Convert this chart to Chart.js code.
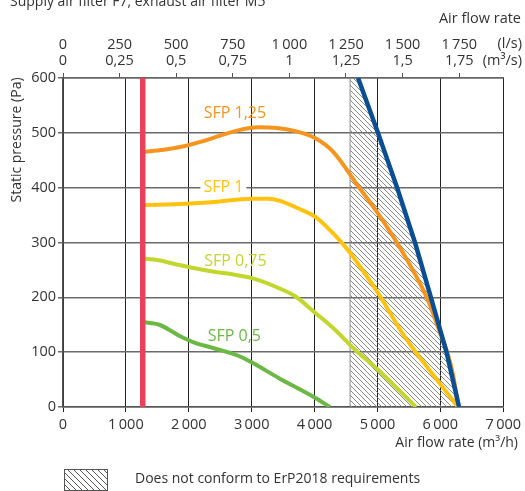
<!DOCTYPE html>
<html>
<head>
<meta charset="utf-8">
<script src="https://cdn.jsdelivr.net/npm/chart.js@4.4.0/dist/chart.umd.min.js"></script>
<style>
  html, body { margin: 0; padding: 0; background: #fff; }
</style>
</head>
<body>
<canvas id="myChart" width="525" height="491"></canvas>
<script>
// chart data
const flowTicks = ['0', '1\u2009000', '2\u2009000', '3\u2009000', '4\u2009000', '5\u2009000', '6\u2009000', '7\u2009000'];
const litreValues = [0, 250, 500, 750, 1000, 1250, 1500, 1750];
const litreTicks = ['0', '250', '500', '750', '1\u2009000', '1\u2009250', '1\u2009500', '1\u2009750'];
const cubicTicks = ['0', '0,25', '0,5', '0,75', '1', '1,25', '1,5', '1,75'];
const pressureTicks = ['0', '100', '200', '300', '400', '500', '600'];

const sfp125X = [1268, 1600, 1900, 2200, 2500, 2800, 3100, 3400, 3700, 4000, 4300, 4692, 5008, 5376, 5798, 5990, 6110, 6200, 6290];
const sfp125Y = [465, 469, 475, 484, 495, 505, 510, 509, 503, 491, 465, 403, 353, 287, 196, 137, 100, 60, 0];

const sfp1X = [1268, 1500, 1848, 2400, 3006, 3270, 3450, 3744, 4008, 4250, 4482, 4586, 5008, 5430, 5904, 6280];
const sfp1Y = [368, 369, 370, 374, 380, 380, 376, 362, 347, 322, 293, 278, 208, 129, 56, 0];

const sfp075X = [1268, 1500, 1848, 2374, 2638, 3006, 3428, 3692, 4008, 4324, 4640, 5008, 5613];
const sfp075Y = [271, 268, 259, 247, 243, 235, 217, 202, 172, 141, 105, 68, 0];

const sfp05X = [1268, 1532, 1848, 2100, 2374, 2796, 3006, 3428, 4008, 4245];
const sfp05Y = [155, 150, 130, 117, 108, 93, 81, 53, 17, 0];

const limitX = [4692, 5008, 5313, 5597, 5850, 6098, 6298];
const limitY = [600, 500, 400, 300, 200, 100, 0];

const minFlow = 1268;
const hatchStart = 4565;

const labelNames = ['SFP 1,25', 'SFP 1', 'SFP 0,75', 'SFP 0,5'];
const labelX = [2733, 2551, 2741, 2725];
const labelY = [535, 401, 266, 129];
const labelColors = ['#f7941d', '#ffc20e', '#c2d62e', '#6cb844'];

function pts(xs, ys) {
    return xs.map((x, i) => ({ x: x, y: ys[i] }));
}

// pick a label from a list when the value sits on a step
function stepLabel(list, v, step) {
    let i = Math.round(v / step);
    if (Math.abs(v - i * step) > 0.5 || i >= list.length) return null;
    return list[i];
}

// diagonal hatching
function makeHatch(step, color, width) {
    let c = document.createElement('canvas');
    c.width = step;
    c.height = step;
    let g = c.getContext('2d');
    g.strokeStyle = color;
    g.lineWidth = width;
    g.beginPath();
    g.moveTo(-1, -1); g.lineTo(step + 1, step + 1);
    g.moveTo(-1, step - 1); g.lineTo(1, step + 1);
    g.moveTo(step - 1, -1); g.lineTo(step + 1, 1);
    g.stroke();
    return g.createPattern(c, 'repeat');
}

const hatch = makeHatch(5, '#7a7a7a', 0.9);
const legendHatch = makeHatch(6, '#555', 1);

const font = 'Open Sans';
const textColor = '#333';

const hatchData = [{ x: hatchStart, y: 0 }, { x: hatchStart, y: 600 }].concat(pts(limitX, limitY));

const textPlugin = {
    id: 'texts',
    beforeDatasetsDraw(chart) {
        let ctx = chart.ctx;
        let xs = chart.scales.x, ys = chart.scales.y;
        ctx.save();
        ctx.font = '16px "' + font + '"';
        ctx.textAlign = 'center';
        ctx.textBaseline = 'middle';
        for (let i = 0; i < labelNames.length; i++) {
            let px = xs.getPixelForValue(labelX[i]);
            let py = ys.getPixelForValue(labelY[i]);
            if (i == 1) {
                let w = ctx.measureText(labelNames[i]).width;
                ctx.fillStyle = '#fff';
                ctx.fillRect(px - w / 2 - 3, py - 4, w + 6, 8);
            }
            ctx.fillStyle = labelColors[i];
            ctx.fillText(labelNames[i], px, py);
        }
        ctx.restore();
    },
    afterDraw(chart) {
        let ctx = chart.ctx;
        ctx.save();
        ctx.fillStyle = textColor;
        ctx.font = '14px "' + font + '"';
        ctx.textBaseline = 'alphabetic';
        ctx.textAlign = 'left';
        ctx.fillText('Supply air filter F7, exhaust air filter M5', 10, 6);

        ctx.font = '14.5px "' + font + '"';
        ctx.textBaseline = 'middle';
        ctx.textAlign = 'right';
        ctx.fillText('Air flow rate', 521, 19);
        ctx.fillText('(l/s)', 522, 44);
        ctx.fillText('(m\u00b3/s)', 522, 61);
        ctx.font = '14px "' + font + '"';
        ctx.fillText('Air flow rate (m\u00b3/h)', 518, 443);

        ctx.save();
        ctx.translate(17, 140);
        ctx.rotate(-Math.PI / 2);
        ctx.textAlign = 'center';
        ctx.fillText('Static pressure (Pa)', 0, 0);
        ctx.restore();

        // legend
        ctx.fillStyle = legendHatch;
        ctx.fillRect(64, 469, 43, 21);
        ctx.strokeStyle = '#555';
        ctx.lineWidth = 1;
        ctx.strokeRect(64.5, 469.5, 43, 21);
        ctx.fillStyle = textColor;
        ctx.textAlign = 'left';
        ctx.fillText('Does not conform to ErP2018 requirements', 135, 479);
        ctx.restore();
    }
};

function curve(data, color, order) {
    return {
        data: data,
        borderColor: color,
        borderWidth: 4,
        pointRadius: 0,
        fill: false,
        cubicInterpolationMode: 'monotone',
        order: order
    };
}

new Chart('myChart', {
    type: 'line',
    data: {
        datasets: [
            {
                data: hatchData,
                borderColor: '#8a8a8a',
                borderWidth: 1,
                backgroundColor: hatch,
                pointRadius: 0,
                tension: 0,
                fill: 'origin',
                order: 10
            },
            curve(pts(sfp05X, sfp05Y), '#6cb844', 6),
            curve(pts(sfp075X, sfp075Y), '#c2d62e', 5),
            curve(pts(sfp125X, sfp125Y), '#f7941d', 4),
            curve(pts(sfp1X, sfp1Y), '#ffc20e', 3),
            {
                data: pts(limitX, limitY),
                borderColor: '#0a4f93',
                borderWidth: 4.5,
                pointRadius: 0,
                tension: 0,
                fill: false,
                order: 2
            },
            {
                data: [{ x: minFlow, y: 0 }, { x: minFlow, y: 600 }],
                borderColor: '#e9405b',
                borderWidth: 5.5,
                pointRadius: 0,
                fill: false,
                order: 1
            }
        ]
    },
    options: {
        responsive: false,
        animation: false,
        layout: { padding: { left: 0, right: 19, top: 0, bottom: 0 } },
        plugins: { legend: { display: false }, tooltip: { enabled: false } },
        scales: {
            x: {
                type: 'linear',
                position: 'bottom',
                min: 0,
                max: 7000,
                afterFit(s) { s.height = 84; },
                ticks: {
                    stepSize: 1000,
                    color: textColor,
                    padding: 4,
                    maxRotation: 0,
                    font: { family: font, size: 14.5 },
                    callback: (v) => stepLabel(flowTicks, v, 1000) || ''
                },
                grid: { color: '#222', lineWidth: 1, tickLength: 5 },
                border: { color: '#555', width: 1.5 }
            },
            // l/s and m3/s, placed on the m3/h scale (1 l/s = 3.6 m3/h)
            x2: {
                type: 'linear',
                position: 'top',
                min: 0,
                max: 7000,
                afterFit(s) { s.height = 78; },
                afterBuildTicks(s) { s.ticks = litreValues.map(v => ({ value: v * 3.6 })); },
                ticks: {
                    autoSkip: false,
                    color: textColor,
                    padding: 4,
                    maxRotation: 0,
                    font: { family: font, size: 14.5, lineHeight: 1.1 },
                    callback: (v, i) => i < litreTicks.length ? [litreTicks[i], cubicTicks[i]] : ''
                },
                grid: { drawOnChartArea: false, color: '#555', lineWidth: 1, tickLength: 5 },
                border: { color: '#666', width: 1.5 }
            },
            y: {
                type: 'linear',
                min: 0,
                max: 600,
                afterFit(s) { s.width = 63; },
                ticks: {
                    stepSize: 100,
                    color: textColor,
                    padding: 2,
                    font: { family: font, size: 14.5 },
                    callback: (v) => stepLabel(pressureTicks, v, 100) || ''
                },
                grid: { color: '#6a6a6a', lineWidth: 1.5, tickLength: 5 },
                border: { color: '#555', width: 1.5 }
            }
        }
    },
    plugins: [textPlugin]
});
</script>
</body>
</html>
